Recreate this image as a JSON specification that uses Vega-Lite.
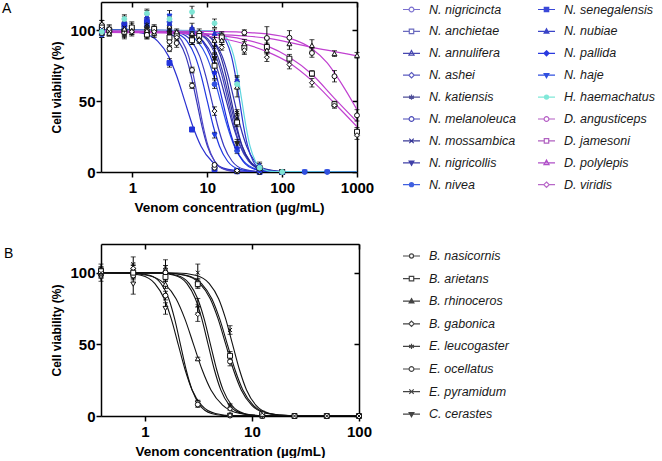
{
"$schema": "https://vega.github.io/schema/vega-lite/v6.json",
"padding": {"left": 2, "top": 0, "right": 0, "bottom": 0},
"spacing": 29,
"config": {
 "font": "Liberation Sans",
 "view": {"stroke": null},
 "axis": {"domainColor": "black", "domainWidth": 1.5, "tickColor": "black", "tickWidth": 1.5, "tickSize": 5, "grid": false, "labelFlush": false,
  "labelFont": "Liberation Sans", "labelFontWeight": "bold", "labelFontSize": 15, "labelColor": "black",
  "titleFont": "Liberation Sans", "titleFontWeight": "bold", "titleColor": "black"},
 "axisX": {"labelPadding": 3, "titlePadding": 5, "titleFontSize": 13.5},
 "axisY": {"labelPadding": 1, "titlePadding": 6, "titleFontSize": 12},
 "legend": {"labelFont": "Liberation Sans", "labelFontStyle": "italic", "labelFontSize": 12.5, "labelColor": "#1a1a1a", "symbolStrokeWidth": 1.2, "padding": 0}
},
"datasets": {
 "aC": [
  {"s":"N. senegalensis","x":0.38,"y":100},{"s":"N. senegalensis","x":0.68,"y":99.75},{"s":"N. senegalensis","x":1.32,"y":98.2},{"s":"N. senegalensis","x":2.17,"y":92.4},{"s":"N. senegalensis","x":3.03,"y":81.8},{"s":"N. senegalensis","x":3.89,"y":67.9},{"s":"N. senegalensis","x":5,"y":50},{"s":"N. senegalensis","x":6.42,"y":32.1},{"s":"N. senegalensis","x":8.24,"y":18.2},{"s":"N. senegalensis","x":11.5,"y":7.6},{"s":"N. senegalensis","x":19,"y":1.8},{"s":"N. senegalensis","x":36.9,"y":0.25},{"s":"N. senegalensis","x":1000,"y":0},
  {"s":"N. melanoleuca","x":0.38,"y":100},{"s":"N. melanoleuca","x":1.9,"y":99.75},{"s":"N. melanoleuca","x":2.96,"y":98.2},{"s":"N. melanoleuca","x":4.13,"y":92.4},{"s":"N. melanoleuca","x":5.16,"y":81.8},{"s":"N. melanoleuca","x":6.09,"y":67.9},{"s":"N. melanoleuca","x":7.2,"y":50},{"s":"N. melanoleuca","x":8.51,"y":32.1},{"s":"N. melanoleuca","x":10.05,"y":18.2},{"s":"N. melanoleuca","x":12.55,"y":7.6},{"s":"N. melanoleuca","x":17.51,"y":1.8},{"s":"N. melanoleuca","x":27.3,"y":0.25},{"s":"N. melanoleuca","x":1000,"y":0},
  {"s":"N. nigricincta","x":0.38,"y":100},{"s":"N. nigricincta","x":2.29,"y":99.75},{"s":"N. nigricincta","x":3.41,"y":98.2},{"s":"N. nigricincta","x":4.61,"y":92.4},{"s":"N. nigricincta","x":5.63,"y":81.8},{"s":"N. nigricincta","x":6.54,"y":67.9},{"s":"N. nigricincta","x":7.6,"y":50},{"s":"N. nigricincta","x":8.83,"y":32.1},{"s":"N. nigricincta","x":10.26,"y":18.2},{"s":"N. nigricincta","x":12.53,"y":7.6},{"s":"N. nigricincta","x":16.91,"y":1.8},{"s":"N. nigricincta","x":25.2,"y":0.25},{"s":"N. nigricincta","x":1000,"y":0},
  {"s":"N. haje","x":0.38,"y":100},{"s":"N. haje","x":2.23,"y":99.75},{"s":"N. haje","x":3.68,"y":98.2},{"s":"N. haje","x":5.35,"y":92.4},{"s":"N. haje","x":6.87,"y":81.8},{"s":"N. haje","x":8.29,"y":67.9},{"s":"N. haje","x":10,"y":50},{"s":"N. haje","x":12.06,"y":32.1},{"s":"N. haje","x":14.55,"y":18.2},{"s":"N. haje","x":18.68,"y":7.6},{"s":"N. haje","x":27.18,"y":1.8},{"s":"N. haje","x":44.8,"y":0.25},{"s":"N. haje","x":1000,"y":0},
  {"s":"N. ashei","x":0.38,"y":100},{"s":"N. ashei","x":2.57,"y":99.75},{"s":"N. ashei","x":4.23,"y":98.2},{"s":"N. ashei","x":6.16,"y":92.4},{"s":"N. ashei","x":7.9,"y":81.8},{"s":"N. ashei","x":9.53,"y":67.9},{"s":"N. ashei","x":11.5,"y":50},{"s":"N. ashei","x":13.87,"y":32.1},{"s":"N. ashei","x":16.73,"y":18.2},{"s":"N. ashei","x":21.48,"y":7.6},{"s":"N. ashei","x":31.26,"y":1.8},{"s":"N. ashei","x":51.5,"y":0.25},{"s":"N. ashei","x":1000,"y":0},
  {"s":"N. nivea","x":0.38,"y":100},{"s":"N. nivea","x":2.7,"y":99.75},{"s":"N. nivea","x":4.78,"y":98.2},{"s":"N. nivea","x":7.34,"y":92.4},{"s":"N. nivea","x":9.77,"y":81.8},{"s":"N. nivea","x":12.11,"y":67.9},{"s":"N. nivea","x":15,"y":50},{"s":"N. nivea","x":18.59,"y":32.1},{"s":"N. nivea","x":23,"y":18.2},{"s":"N. nivea","x":30.6,"y":7.6},{"s":"N. nivea","x":47,"y":1.8},{"s":"N. nivea","x":83.3,"y":0.25},{"s":"N. nivea","x":1000,"y":0},
  {"s":"N. pallida","x":0.38,"y":100},{"s":"N. pallida","x":3.57,"y":99.75},{"s":"N. pallida","x":5.89,"y":98.2},{"s":"N. pallida","x":8.56,"y":92.4},{"s":"N. pallida","x":11,"y":81.8},{"s":"N. pallida","x":13.26,"y":67.9},{"s":"N. pallida","x":16,"y":50},{"s":"N. pallida","x":19.3,"y":32.1},{"s":"N. pallida","x":23.3,"y":18.2},{"s":"N. pallida","x":29.9,"y":7.6},{"s":"N. pallida","x":43.5,"y":1.8},{"s":"N. pallida","x":71.7,"y":0.25},{"s":"N. pallida","x":1000,"y":0},
  {"s":"N. nigricollis","x":0.38,"y":100},{"s":"N. nigricollis","x":3.24,"y":99.75},{"s":"N. nigricollis","x":5.74,"y":98.2},{"s":"N. nigricollis","x":8.81,"y":92.4},{"s":"N. nigricollis","x":11.73,"y":81.8},{"s":"N. nigricollis","x":14.53,"y":67.9},{"s":"N. nigricollis","x":18,"y":50},{"s":"N. nigricollis","x":22.3,"y":32.1},{"s":"N. nigricollis","x":27.6,"y":18.2},{"s":"N. nigricollis","x":36.8,"y":7.6},{"s":"N. nigricollis","x":56.4,"y":1.8},{"s":"N. nigricollis","x":100,"y":0.25},{"s":"N. nigricollis","x":1000,"y":0},
  {"s":"N. anchietae","x":0.38,"y":100},{"s":"N. anchietae","x":4.24,"y":99.75},{"s":"N. anchietae","x":6.99,"y":98.2},{"s":"N. anchietae","x":10.17,"y":92.4},{"s":"N. anchietae","x":13.06,"y":81.8},{"s":"N. anchietae","x":15.75,"y":67.9},{"s":"N. anchietae","x":19,"y":50},{"s":"N. anchietae","x":22.9,"y":32.1},{"s":"N. anchietae","x":27.6,"y":18.2},{"s":"N. anchietae","x":35.5,"y":7.6},{"s":"N. anchietae","x":51.6,"y":1.8},{"s":"N. anchietae","x":85.2,"y":0.25},{"s":"N. anchietae","x":1000,"y":0},
  {"s":"N. katiensis","x":0.38,"y":100},{"s":"N. katiensis","x":4.46,"y":99.75},{"s":"N. katiensis","x":7.36,"y":98.2},{"s":"N. katiensis","x":10.71,"y":92.4},{"s":"N. katiensis","x":13.75,"y":81.8},{"s":"N. katiensis","x":16.58,"y":67.9},{"s":"N. katiensis","x":20,"y":50},{"s":"N. katiensis","x":24.1,"y":32.1},{"s":"N. katiensis","x":29.1,"y":18.2},{"s":"N. katiensis","x":37.4,"y":7.6},{"s":"N. katiensis","x":54.4,"y":1.8},{"s":"N. katiensis","x":89.6,"y":0.25},{"s":"N. katiensis","x":1000,"y":0},
  {"s":"N. mossambica","x":0.38,"y":100},{"s":"N. mossambica","x":5.54,"y":99.75},{"s":"N. mossambica","x":8.63,"y":98.2},{"s":"N. mossambica","x":12.05,"y":92.4},{"s":"N. mossambica","x":15.05,"y":81.8},{"s":"N. mossambica","x":17.78,"y":67.9},{"s":"N. mossambica","x":21,"y":50},{"s":"N. mossambica","x":24.8,"y":32.1},{"s":"N. mossambica","x":29.3,"y":18.2},{"s":"N. mossambica","x":36.6,"y":7.6},{"s":"N. mossambica","x":51.1,"y":1.8},{"s":"N. mossambica","x":79.7,"y":0.25},{"s":"N. mossambica","x":1000,"y":0},
  {"s":"N. annulifera","x":0.38,"y":100},{"s":"N. annulifera","x":5.13,"y":99.75},{"s":"N. annulifera","x":8.46,"y":98.2},{"s":"N. annulifera","x":12.31,"y":92.4},{"s":"N. annulifera","x":15.81,"y":81.8},{"s":"N. annulifera","x":19.07,"y":67.9},{"s":"N. annulifera","x":23,"y":50},{"s":"N. annulifera","x":27.7,"y":32.1},{"s":"N. annulifera","x":33.5,"y":18.2},{"s":"N. annulifera","x":43,"y":7.6},{"s":"N. annulifera","x":62.5,"y":1.8},{"s":"N. annulifera","x":103,"y":0.25},{"s":"N. annulifera","x":1000,"y":0},
  {"s":"N. nubiae","x":0.38,"y":100},{"s":"N. nubiae","x":9.93,"y":99.75},{"s":"N. nubiae","x":13.86,"y":98.2},{"s":"N. nubiae","x":17.8,"y":92.4},{"s":"N. nubiae","x":21,"y":81.8},{"s":"N. nubiae","x":23.8,"y":67.9},{"s":"N. nubiae","x":27,"y":50},{"s":"N. nubiae","x":30.6,"y":32.1},{"s":"N. nubiae","x":34.7,"y":18.2},{"s":"N. nubiae","x":41,"y":7.6},{"s":"N. nubiae","x":52.6,"y":1.8},{"s":"N. nubiae","x":73.4,"y":0.25},{"s":"N. nubiae","x":1000,"y":0},
  {"s":"H. haemachatus","x":0.38,"y":100},{"s":"H. haemachatus","x":10.67,"y":99.75},{"s":"H. haemachatus","x":14.89,"y":98.2},{"s":"H. haemachatus","x":19.12,"y":92.4},{"s":"H. haemachatus","x":22.6,"y":81.8},{"s":"H. haemachatus","x":25.6,"y":67.9},{"s":"H. haemachatus","x":29,"y":50},{"s":"H. haemachatus","x":32.9,"y":32.1},{"s":"H. haemachatus","x":37.2,"y":18.2},{"s":"H. haemachatus","x":44,"y":7.6},{"s":"H. haemachatus","x":56.5,"y":1.8},{"s":"H. haemachatus","x":78.8,"y":0.25},{"s":"H. haemachatus","x":1000,"y":0},
  {"s":"D. angusticeps","x":0.38,"y":99.6},{"s":"D. angusticeps","x":10,"y":99.3},{"s":"D. angusticeps","x":31.25,"y":98.6},{"s":"D. angusticeps","x":62.5,"y":97.5},{"s":"D. angusticeps","x":125,"y":94.5},{"s":"D. angusticeps","x":250,"y":87},{"s":"D. angusticeps","x":400,"y":77},{"s":"D. angusticeps","x":500,"y":70},{"s":"D. angusticeps","x":700,"y":58},{"s":"D. angusticeps","x":1000,"y":44},
  {"s":"D. jamesoni","x":0.38,"y":99.5},{"s":"D. jamesoni","x":3,"y":99},{"s":"D. jamesoni","x":10,"y":97.5},{"s":"D. jamesoni","x":31.25,"y":93.5},{"s":"D. jamesoni","x":62.5,"y":89},{"s":"D. jamesoni","x":125,"y":81},{"s":"D. jamesoni","x":250,"y":69},{"s":"D. jamesoni","x":500,"y":52},{"s":"D. jamesoni","x":1000,"y":35.5},
  {"s":"D. viridis","x":0.38,"y":99},{"s":"D. viridis","x":3,"y":98.3},{"s":"D. viridis","x":10,"y":96},{"s":"D. viridis","x":31.25,"y":90.5},{"s":"D. viridis","x":62.5,"y":85},{"s":"D. viridis","x":125,"y":77},{"s":"D. viridis","x":250,"y":64.5},{"s":"D. viridis","x":500,"y":48.5},{"s":"D. viridis","x":1000,"y":32},
  {"s":"D. polylepis","x":0.38,"y":98.5},{"s":"D. polylepis","x":3,"y":98.2},{"s":"D. polylepis","x":10,"y":97.3},{"s":"D. polylepis","x":31.25,"y":96},{"s":"D. polylepis","x":62.5,"y":94.5},{"s":"D. polylepis","x":125,"y":91.5},{"s":"D. polylepis","x":250,"y":88},{"s":"D. polylepis","x":500,"y":85},{"s":"D. polylepis","x":1000,"y":82}
 ],
 "aP": [
  {"s":"N. senegalensis","x":0.39,"y":101,"e":3},{"s":"N. senegalensis","x":0.78,"y":104,"e":4},{"s":"N. senegalensis","x":1.56,"y":106,"e":5},{"s":"N. senegalensis","x":3.125,"y":77,"e":3},{"s":"N. senegalensis","x":6.25,"y":30,"e":1.5},{"s":"N. senegalensis","x":12.5,"y":2,"e":1},{"s":"N. senegalensis","x":25,"y":0.5,"e":0.5},{"s":"N. senegalensis","x":50,"y":0,"e":0.5},{"s":"N. senegalensis","x":100,"y":0,"e":0.5},
  {"s":"N. melanoleuca","x":0.39,"y":98,"e":3},{"s":"N. melanoleuca","x":0.78,"y":100,"e":4},{"s":"N. melanoleuca","x":1.56,"y":99,"e":3},{"s":"N. melanoleuca","x":3.125,"y":92,"e":3},{"s":"N. melanoleuca","x":6.25,"y":61,"e":2},{"s":"N. melanoleuca","x":12.5,"y":3,"e":1},{"s":"N. melanoleuca","x":25,"y":0.5,"e":0.5},{"s":"N. melanoleuca","x":50,"y":0,"e":0.5},{"s":"N. melanoleuca","x":100,"y":0,"e":0.5},
  {"s":"N. nigricincta","x":0.39,"y":103,"e":4},{"s":"N. nigricincta","x":0.78,"y":101,"e":3},{"s":"N. nigricincta","x":1.56,"y":100,"e":3},{"s":"N. nigricincta","x":3.125,"y":87,"e":2},{"s":"N. nigricincta","x":6.25,"y":72,"e":2},{"s":"N. nigricincta","x":12.5,"y":5,"e":1},{"s":"N. nigricincta","x":25,"y":0.5,"e":0.5},{"s":"N. nigricincta","x":50,"y":0,"e":0.5},{"s":"N. nigricincta","x":100,"y":0,"e":0.5},
  {"s":"N. haje","x":0.39,"y":100,"e":2},{"s":"N. haje","x":0.78,"y":98,"e":3},{"s":"N. haje","x":1.56,"y":102,"e":4},{"s":"N. haje","x":3.125,"y":110,"e":4},{"s":"N. haje","x":6.25,"y":96,"e":3},{"s":"N. haje","x":12.5,"y":26,"e":2},{"s":"N. haje","x":25,"y":1,"e":1},{"s":"N. haje","x":50,"y":0,"e":0.5},{"s":"N. haje","x":100,"y":0,"e":0.5},{"s":"N. haje","x":200,"y":0,"e":0.5},{"s":"N. haje","x":400,"y":0,"e":0.5},
  {"s":"N. ashei","x":0.39,"y":104,"e":3},{"s":"N. ashei","x":0.78,"y":99,"e":3},{"s":"N. ashei","x":1.56,"y":97,"e":3},{"s":"N. ashei","x":3.125,"y":99,"e":2},{"s":"N. ashei","x":6.25,"y":95,"e":3},{"s":"N. ashei","x":12.5,"y":43,"e":3},{"s":"N. ashei","x":25,"y":1,"e":1},{"s":"N. ashei","x":50,"y":0,"e":0.5},{"s":"N. ashei","x":100,"y":0,"e":0.5},
  {"s":"N. nivea","x":0.39,"y":97,"e":2},{"s":"N. nivea","x":0.78,"y":101,"e":3},{"s":"N. nivea","x":1.56,"y":103,"e":4},{"s":"N. nivea","x":3.125,"y":106,"e":4},{"s":"N. nivea","x":6.25,"y":99,"e":3},{"s":"N. nivea","x":12.5,"y":62,"e":3},{"s":"N. nivea","x":25,"y":15,"e":2},{"s":"N. nivea","x":50,"y":1,"e":1},{"s":"N. nivea","x":100,"y":0,"e":0.5},{"s":"N. nivea","x":200,"y":0,"e":0.5},{"s":"N. nivea","x":400,"y":0,"e":0.5},
  {"s":"N. pallida","x":0.39,"y":99,"e":2},{"s":"N. pallida","x":0.78,"y":103,"e":3},{"s":"N. pallida","x":1.56,"y":98,"e":3},{"s":"N. pallida","x":3.125,"y":100,"e":3},{"s":"N. pallida","x":6.25,"y":93,"e":3},{"s":"N. pallida","x":12.5,"y":70,"e":4},{"s":"N. pallida","x":25,"y":17,"e":2},{"s":"N. pallida","x":50,"y":1,"e":1},{"s":"N. pallida","x":100,"y":0,"e":0.5},
  {"s":"N. nigricollis","x":0.39,"y":100,"e":3},{"s":"N. nigricollis","x":0.78,"y":97,"e":3},{"s":"N. nigricollis","x":1.56,"y":101,"e":4},{"s":"N. nigricollis","x":3.125,"y":98,"e":3},{"s":"N. nigricollis","x":6.25,"y":95,"e":3},{"s":"N. nigricollis","x":12.5,"y":80,"e":4},{"s":"N. nigricollis","x":25,"y":20,"e":3},{"s":"N. nigricollis","x":50,"y":2,"e":1},{"s":"N. nigricollis","x":100,"y":0,"e":0.5},
  {"s":"N. anchietae","x":0.39,"y":102,"e":3},{"s":"N. anchietae","x":0.78,"y":99,"e":3},{"s":"N. anchietae","x":1.56,"y":97,"e":3},{"s":"N. anchietae","x":3.125,"y":95,"e":3},{"s":"N. anchietae","x":6.25,"y":93,"e":3},{"s":"N. anchietae","x":12.5,"y":75,"e":4},{"s":"N. anchietae","x":25,"y":35,"e":3},{"s":"N. anchietae","x":50,"y":3,"e":1},{"s":"N. anchietae","x":100,"y":0,"e":0.5},
  {"s":"N. katiensis","x":0.39,"y":99,"e":2},{"s":"N. katiensis","x":0.78,"y":100,"e":3},{"s":"N. katiensis","x":1.56,"y":104,"e":4},{"s":"N. katiensis","x":3.125,"y":100,"e":3},{"s":"N. katiensis","x":6.25,"y":97,"e":3},{"s":"N. katiensis","x":12.5,"y":80,"e":3},{"s":"N. katiensis","x":25,"y":42,"e":2},{"s":"N. katiensis","x":50,"y":3,"e":1},{"s":"N. katiensis","x":100,"y":0,"e":0.5},
  {"s":"N. mossambica","x":0.39,"y":101,"e":3},{"s":"N. mossambica","x":0.78,"y":102,"e":3},{"s":"N. mossambica","x":1.56,"y":99,"e":3},{"s":"N. mossambica","x":3.125,"y":101,"e":3},{"s":"N. mossambica","x":6.25,"y":98,"e":3},{"s":"N. mossambica","x":12.5,"y":88,"e":4},{"s":"N. mossambica","x":25,"y":38,"e":3},{"s":"N. mossambica","x":50,"y":2,"e":1},{"s":"N. mossambica","x":100,"y":0,"e":0.5},
  {"s":"N. annulifera","x":0.39,"y":98,"e":3},{"s":"N. annulifera","x":0.78,"y":101,"e":3},{"s":"N. annulifera","x":1.56,"y":100,"e":3},{"s":"N. annulifera","x":3.125,"y":103,"e":3},{"s":"N. annulifera","x":6.25,"y":98,"e":3},{"s":"N. annulifera","x":12.5,"y":93,"e":4},{"s":"N. annulifera","x":25,"y":60,"e":7},{"s":"N. annulifera","x":50,"y":4,"e":2},{"s":"N. annulifera","x":100,"y":0,"e":0.5},
  {"s":"N. nubiae","x":0.39,"y":100,"e":2},{"s":"N. nubiae","x":0.78,"y":106,"e":4},{"s":"N. nubiae","x":1.56,"y":110,"e":4},{"s":"N. nubiae","x":3.125,"y":105,"e":4},{"s":"N. nubiae","x":6.25,"y":102,"e":3},{"s":"N. nubiae","x":12.5,"y":98,"e":3},{"s":"N. nubiae","x":25,"y":65,"e":3},{"s":"N. nubiae","x":50,"y":5,"e":2},{"s":"N. nubiae","x":100,"y":0,"e":0.5},
  {"s":"H. haemachatus","x":0.39,"y":99,"e":2},{"s":"H. haemachatus","x":0.78,"y":108,"e":3},{"s":"H. haemachatus","x":1.56,"y":112,"e":3},{"s":"H. haemachatus","x":3.125,"y":108,"e":3},{"s":"H. haemachatus","x":6.25,"y":113,"e":4},{"s":"H. haemachatus","x":12.5,"y":105,"e":3},{"s":"H. haemachatus","x":25,"y":62,"e":3},{"s":"H. haemachatus","x":50,"y":3,"e":1},{"s":"H. haemachatus","x":100,"y":0,"e":0.5},
  {"s":"D. angusticeps","x":0.49,"y":99,"e":3},{"s":"D. angusticeps","x":0.98,"y":101,"e":4},{"s":"D. angusticeps","x":1.95,"y":100,"e":3},{"s":"D. angusticeps","x":3.9,"y":91,"e":3},{"s":"D. angusticeps","x":7.8,"y":98,"e":3},{"s":"D. angusticeps","x":15.6,"y":96,"e":3},{"s":"D. angusticeps","x":31.25,"y":98.4,"e":2},{"s":"D. angusticeps","x":62.5,"y":94.6,"e":8},{"s":"D. angusticeps","x":125,"y":94.8,"e":5},{"s":"D. angusticeps","x":250,"y":84,"e":3},{"s":"D. angusticeps","x":500,"y":67.6,"e":4},{"s":"D. angusticeps","x":1000,"y":40,"e":4},
  {"s":"D. jamesoni","x":0.49,"y":100,"e":3},{"s":"D. jamesoni","x":0.98,"y":102,"e":4},{"s":"D. jamesoni","x":1.95,"y":101,"e":3},{"s":"D. jamesoni","x":3.9,"y":97,"e":3},{"s":"D. jamesoni","x":7.8,"y":96,"e":3},{"s":"D. jamesoni","x":15.6,"y":95,"e":3},{"s":"D. jamesoni","x":31.25,"y":88,"e":4},{"s":"D. jamesoni","x":62.5,"y":88.3,"e":5},{"s":"D. jamesoni","x":125,"y":80,"e":3},{"s":"D. jamesoni","x":250,"y":69.5,"e":2},{"s":"D. jamesoni","x":500,"y":47.9,"e":2},{"s":"D. jamesoni","x":1000,"y":28.4,"e":3},
  {"s":"D. polylepis","x":0.49,"y":98,"e":2},{"s":"D. polylepis","x":0.98,"y":100,"e":3},{"s":"D. polylepis","x":1.95,"y":98,"e":3},{"s":"D. polylepis","x":3.9,"y":99,"e":2},{"s":"D. polylepis","x":7.8,"y":94,"e":3},{"s":"D. polylepis","x":15.6,"y":93,"e":3},{"s":"D. polylepis","x":31.25,"y":90.6,"e":3},{"s":"D. polylepis","x":62.5,"y":86,"e":5},{"s":"D. polylepis","x":125,"y":90.6,"e":4},{"s":"D. polylepis","x":250,"y":89.4,"e":4},{"s":"D. polylepis","x":500,"y":83.6,"e":2},{"s":"D. polylepis","x":1000,"y":82.4,"e":2},
  {"s":"D. viridis","x":0.49,"y":101,"e":3},{"s":"D. viridis","x":0.98,"y":99,"e":3},{"s":"D. viridis","x":1.95,"y":99,"e":3},{"s":"D. viridis","x":3.9,"y":95,"e":2},{"s":"D. viridis","x":7.8,"y":93,"e":2},{"s":"D. viridis","x":15.6,"y":88,"e":2},{"s":"D. viridis","x":31.25,"y":86,"e":3},{"s":"D. viridis","x":62.5,"y":81,"e":3},{"s":"D. viridis","x":125,"y":75.8,"e":3},{"s":"D. viridis","x":250,"y":63,"e":3},{"s":"D. viridis","x":500,"y":47,"e":2},{"s":"D. viridis","x":1000,"y":26,"e":3}
 ],
 "bC": [
  {"s":"C. cerastes","x":0.39,"y":100},{"s":"C. cerastes","x":0.617,"y":99.75},{"s":"C. cerastes","x":0.921,"y":98.2},{"s":"C. cerastes","x":1.243,"y":92.4},{"s":"C. cerastes","x":1.519,"y":81.8},{"s":"C. cerastes","x":1.764,"y":67.9},{"s":"C. cerastes","x":2.05,"y":50},{"s":"C. cerastes","x":2.382,"y":32.1},{"s":"C. cerastes","x":2.767,"y":18.2},{"s":"C. cerastes","x":3.38,"y":7.6},{"s":"C. cerastes","x":4.562,"y":1.8},{"s":"C. cerastes","x":6.806,"y":0.25},{"s":"C. cerastes","x":100,"y":0},
  {"s":"B. nasicornis","x":0.39,"y":100},{"s":"B. nasicornis","x":0.791,"y":99.75},{"s":"B. nasicornis","x":1.104,"y":98.2},{"s":"B. nasicornis","x":1.417,"y":92.4},{"s":"B. nasicornis","x":1.674,"y":81.8},{"s":"B. nasicornis","x":1.897,"y":67.9},{"s":"B. nasicornis","x":2.15,"y":50},{"s":"B. nasicornis","x":2.436,"y":32.1},{"s":"B. nasicornis","x":2.761,"y":18.2},{"s":"B. nasicornis","x":3.262,"y":7.6},{"s":"B. nasicornis","x":4.188,"y":1.8},{"s":"B. nasicornis","x":5.844,"y":0.25},{"s":"B. nasicornis","x":100,"y":0},
  {"s":"B. rhinoceros","x":0.39,"y":100},{"s":"B. rhinoceros","x":0.636,"y":99.75},{"s":"B. rhinoceros","x":1.049,"y":98.2},{"s":"B. rhinoceros","x":1.526,"y":92.4},{"s":"B. rhinoceros","x":1.959,"y":81.8},{"s":"B. rhinoceros","x":2.363,"y":67.9},{"s":"B. rhinoceros","x":2.85,"y":50},{"s":"B. rhinoceros","x":3.438,"y":32.1},{"s":"B. rhinoceros","x":4.147,"y":18.2},{"s":"B. rhinoceros","x":5.324,"y":7.6},{"s":"B. rhinoceros","x":7.746,"y":1.8},{"s":"B. rhinoceros","x":12.77,"y":0.25},{"s":"B. rhinoceros","x":100,"y":0},
  {"s":"E. leucogaster","x":0.39,"y":100},{"s":"E. leucogaster","x":1.31,"y":99.75},{"s":"E. leucogaster","x":1.884,"y":98.2},{"s":"E. leucogaster","x":2.476,"y":92.4},{"s":"E. leucogaster","x":2.969,"y":81.8},{"s":"E. leucogaster","x":3.403,"y":67.9},{"s":"E. leucogaster","x":3.9,"y":50},{"s":"E. leucogaster","x":4.47,"y":32.1},{"s":"E. leucogaster","x":5.123,"y":18.2},{"s":"E. leucogaster","x":6.144,"y":7.6},{"s":"E. leucogaster","x":8.072,"y":1.8},{"s":"E. leucogaster","x":11.61,"y":0.25},{"s":"E. leucogaster","x":100,"y":0},
  {"s":"B. gabonica","x":0.39,"y":100},{"s":"B. gabonica","x":1.378,"y":99.75},{"s":"B. gabonica","x":1.98,"y":98.2},{"s":"B. gabonica","x":2.603,"y":92.4},{"s":"B. gabonica","x":3.121,"y":81.8},{"s":"B. gabonica","x":3.577,"y":67.9},{"s":"B. gabonica","x":4.1,"y":50},{"s":"B. gabonica","x":4.699,"y":32.1},{"s":"B. gabonica","x":5.385,"y":18.2},{"s":"B. gabonica","x":6.459,"y":7.6},{"s":"B. gabonica","x":8.486,"y":1.8},{"s":"B. gabonica","x":12.2,"y":0.25},{"s":"B. gabonica","x":100,"y":0},
  {"s":"E. ocellatus","x":0.39,"y":100},{"s":"E. ocellatus","x":1.503,"y":99.75},{"s":"E. ocellatus","x":2.343,"y":98.2},{"s":"E. ocellatus","x":3.271,"y":92.4},{"s":"E. ocellatus","x":4.084,"y":81.8},{"s":"E. ocellatus","x":4.825,"y":67.9},{"s":"E. ocellatus","x":5.7,"y":50},{"s":"E. ocellatus","x":6.734,"y":32.1},{"s":"E. ocellatus","x":7.955,"y":18.2},{"s":"E. ocellatus","x":9.935,"y":7.6},{"s":"E. ocellatus","x":13.86,"y":1.8},{"s":"E. ocellatus","x":21.63,"y":0.25},{"s":"E. ocellatus","x":100,"y":0},
  {"s":"B. arietans","x":0.39,"y":100},{"s":"B. arietans","x":1.555,"y":99.75},{"s":"B. arietans","x":2.425,"y":98.2},{"s":"B. arietans","x":3.385,"y":92.4},{"s":"B. arietans","x":4.227,"y":81.8},{"s":"B. arietans","x":4.994,"y":67.9},{"s":"B. arietans","x":5.9,"y":50},{"s":"B. arietans","x":6.97,"y":32.1},{"s":"B. arietans","x":8.234,"y":18.2},{"s":"B. arietans","x":10.28,"y":7.6},{"s":"B. arietans","x":14.35,"y":1.8},{"s":"B. arietans","x":22.38,"y":0.25},{"s":"B. arietans","x":100,"y":0},
  {"s":"E. pyramidum","x":0.39,"y":100},{"s":"E. pyramidum","x":1.988,"y":99.75},{"s":"E. pyramidum","x":2.965,"y":98.2},{"s":"E. pyramidum","x":4.003,"y":92.4},{"s":"E. pyramidum","x":4.889,"y":81.8},{"s":"E. pyramidum","x":5.681,"y":67.9},{"s":"E. pyramidum","x":6.6,"y":50},{"s":"E. pyramidum","x":7.668,"y":32.1},{"s":"E. pyramidum","x":8.909,"y":18.2},{"s":"E. pyramidum","x":10.88,"y":7.6},{"s":"E. pyramidum","x":14.69,"y":1.8},{"s":"E. pyramidum","x":21.91,"y":0.25},{"s":"E. pyramidum","x":100,"y":0}
 ],
 "bP": [
  {"s":"C. cerastes","x":0.39,"y":97,"e":3},{"s":"C. cerastes","x":0.78,"y":92,"e":7},{"s":"C. cerastes","x":1.56,"y":75,"e":4},{"s":"C. cerastes","x":3.125,"y":9,"e":2},{"s":"C. cerastes","x":6.25,"y":0.5,"e":0.5},{"s":"C. cerastes","x":12.5,"y":0,"e":0.5},{"s":"C. cerastes","x":25,"y":0,"e":0.5},{"s":"C. cerastes","x":50,"y":0,"e":0.5},{"s":"C. cerastes","x":100,"y":0,"e":0.5},
  {"s":"B. nasicornis","x":0.39,"y":100,"e":3},{"s":"B. nasicornis","x":0.78,"y":99,"e":3},{"s":"B. nasicornis","x":1.56,"y":84,"e":3},{"s":"B. nasicornis","x":3.125,"y":8,"e":2},{"s":"B. nasicornis","x":6.25,"y":0.3,"e":0.5},{"s":"B. nasicornis","x":12.5,"y":0,"e":0.5},{"s":"B. nasicornis","x":25,"y":0,"e":0.5},{"s":"B. nasicornis","x":50,"y":0,"e":0.5},{"s":"B. nasicornis","x":100,"y":0,"e":0.5},
  {"s":"B. rhinoceros","x":0.39,"y":101,"e":3},{"s":"B. rhinoceros","x":0.78,"y":100,"e":3},{"s":"B. rhinoceros","x":1.56,"y":92,"e":3},{"s":"B. rhinoceros","x":3.125,"y":40,"e":1},{"s":"B. rhinoceros","x":6.25,"y":1,"e":0.5},{"s":"B. rhinoceros","x":12.5,"y":0,"e":0.5},{"s":"B. rhinoceros","x":25,"y":0,"e":0.5},{"s":"B. rhinoceros","x":50,"y":0,"e":0.5},{"s":"B. rhinoceros","x":100,"y":0,"e":0.5},
  {"s":"E. leucogaster","x":0.39,"y":102,"e":4},{"s":"E. leucogaster","x":0.78,"y":101,"e":4},{"s":"E. leucogaster","x":1.56,"y":98,"e":4},{"s":"E. leucogaster","x":3.125,"y":77,"e":5},{"s":"E. leucogaster","x":6.25,"y":7,"e":1.5},{"s":"E. leucogaster","x":12.5,"y":1,"e":0.5},{"s":"E. leucogaster","x":25,"y":0,"e":0.5},{"s":"E. leucogaster","x":50,"y":0,"e":0.5},{"s":"E. leucogaster","x":100,"y":0,"e":0.5},
  {"s":"B. gabonica","x":0.39,"y":99,"e":3},{"s":"B. gabonica","x":0.78,"y":103,"e":3},{"s":"B. gabonica","x":1.56,"y":101,"e":4},{"s":"B. gabonica","x":3.125,"y":71,"e":5},{"s":"B. gabonica","x":6.25,"y":5,"e":1},{"s":"B. gabonica","x":12.5,"y":0.5,"e":0.5},{"s":"B. gabonica","x":25,"y":0,"e":0.5},{"s":"B. gabonica","x":50,"y":0,"e":0.5},{"s":"B. gabonica","x":100,"y":0,"e":0.5},
  {"s":"E. ocellatus","x":0.39,"y":100,"e":3},{"s":"E. ocellatus","x":0.78,"y":98,"e":3},{"s":"E. ocellatus","x":1.56,"y":100,"e":3},{"s":"E. ocellatus","x":3.125,"y":93,"e":3},{"s":"E. ocellatus","x":6.25,"y":38,"e":3},{"s":"E. ocellatus","x":12.5,"y":1.5,"e":1},{"s":"E. ocellatus","x":25,"y":0,"e":0.5},{"s":"E. ocellatus","x":50,"y":0,"e":0.5},{"s":"E. ocellatus","x":100,"y":0,"e":0.5},
  {"s":"B. arietans","x":0.39,"y":101,"e":3},{"s":"B. arietans","x":0.78,"y":100,"e":3},{"s":"B. arietans","x":1.56,"y":97,"e":3},{"s":"B. arietans","x":3.125,"y":92,"e":3},{"s":"B. arietans","x":6.25,"y":42,"e":3},{"s":"B. arietans","x":12.5,"y":1.5,"e":1},{"s":"B. arietans","x":25,"y":0,"e":0.5},{"s":"B. arietans","x":50,"y":0,"e":0.5},{"s":"B. arietans","x":100,"y":0,"e":0.5},
  {"s":"E. pyramidum","x":0.39,"y":100,"e":3},{"s":"E. pyramidum","x":0.78,"y":106,"e":5},{"s":"E. pyramidum","x":1.56,"y":104,"e":5},{"s":"E. pyramidum","x":3.125,"y":100,"e":6},{"s":"E. pyramidum","x":6.25,"y":60,"e":3},{"s":"E. pyramidum","x":12.5,"y":2,"e":1},{"s":"E. pyramidum","x":25,"y":0,"e":0.5},{"s":"E. pyramidum","x":50,"y":0,"e":0.5},{"s":"E. pyramidum","x":100,"y":0,"e":0.5}
 ]
},
"vconcat": [
 {
  "width": 256, "height": 170,
  "title": {"text": "A", "anchor": "start", "frame": "group", "baseline": "top", "offset": -16, "dx": -99, "fontSize": 14, "fontWeight": "normal", "font": "Liberation Sans", "color": "black"},
  "resolve": {"scale": {"color": "independent", "shape": "independent", "fill": "independent", "stroke": "independent"}, "axis": {"x": "independent", "y": "independent"}},
  "layer": [
   {"data": {"name": "aC"}, "mark": {"type": "line", "strokeWidth": 1.2, "interpolate": "monotone", "clip": true},
    "encoding": {
     "x": {"field": "x", "type": "quantitative", "scale": {"type": "log", "domain": [0.38, 1000], "nice": false}, "axis": {"values": [1, 10, 100, 1000], "format": "d", "title": "Venom concentration (µg/mL)"}},
     "y": {"field": "y", "type": "quantitative", "scale": {"domain": [0, 120], "nice": false, "zero": false}, "axis": {"values": [0, 50, 100], "title": "Cell viability (%)"}},
     "color": {"field": "s", "type": "nominal", "legend": null,
      "scale": {"domain": ["N. nigricincta","N. anchietae","N. annulifera","N. ashei","N. katiensis","N. melanoleuca","N. mossambica","N. nigricollis","N. nivea","N. senegalensis","N. nubiae","N. pallida","N. haje","H. haemachatus","D. angusticeps","D. jamesoni","D. polylepis","D. viridis"],
       "range": ["#4f46c8","#4040b8","#3030b0","#3a3ac0","#3434a8","#3535b8","#2a2a9a","#3030a8","#2a50e8","#2a30d0","#2a36d0","#1a28e0","#2038e0","#5fd6e0","#c040d0","#c040d0","#c040d0","#c040d0"]}}
    }},
   {"data": {"name": "aP"}, "mark": {"type": "errorbar", "ticks": true, "size": 5, "thickness": 1, "color": "black"},
    "encoding": {
     "x": {"field": "x", "type": "quantitative", "axis": null},
     "y": {"field": "y", "type": "quantitative", "axis": null},
     "yError": {"field": "e"}
    }},
   {"data": {"name": "aP"}, "mark": {"type": "point", "filled": true, "size": 24, "strokeWidth": 1, "opacity": 1},
    "encoding": {
     "x": {"field": "x", "type": "quantitative", "axis": null},
     "y": {"field": "y", "type": "quantitative", "axis": null},
     "shape": {"field": "s", "type": "nominal", "legend": null,
      "scale": {"domain": ["N. nigricincta","N. anchietae","N. annulifera","N. ashei","N. katiensis","N. melanoleuca","N. mossambica","N. nigricollis","N. nivea","N. senegalensis","N. nubiae","N. pallida","N. haje","H. haemachatus","D. angusticeps","D. jamesoni","D. polylepis","D. viridis"],
       "range": ["circle","square","triangle-up","diamond","M0,-1V1M-0.87,-0.5L0.87,0.5M-0.87,0.5L0.87,-0.5","circle","M-0.8,-0.8L0.8,0.8M-0.8,0.8L0.8,-0.8","triangle-down","circle","square","triangle-up","diamond","triangle-down","circle","circle","square","triangle-up","diamond"]}},
     "fill": {"field": "s", "type": "nominal", "legend": null,
      "scale": {"domain": ["N. nigricincta","N. anchietae","N. annulifera","N. ashei","N. katiensis","N. melanoleuca","N. mossambica","N. nigricollis","N. nivea","N. senegalensis","N. nubiae","N. pallida","N. haje","H. haemachatus","D. angusticeps","D. jamesoni","D. polylepis","D. viridis"],
       "range": ["white","white","white","white","#111111","white","white","#222222","#3050e0","#2233dd","#2233cc","#1a2ae0","#1f3fe0","#7fe5d5","white","white","white","white"]}},
     "stroke": {"field": "s", "type": "nominal", "legend": null,
      "scale": {"domain": ["N. nigricincta","N. anchietae","N. annulifera","N. ashei","N. katiensis","N. melanoleuca","N. mossambica","N. nigricollis","N. nivea","N. senegalensis","N. nubiae","N. pallida","N. haje","H. haemachatus","D. angusticeps","D. jamesoni","D. polylepis","D. viridis"],
       "range": ["#111111","#111111","#111111","#111111","#111111","#111111","#111111","#222222","#3050e0","#2233dd","#2233cc","#1a2ae0","#1f3fe0","#7fe5d5","#111111","#111111","#111111","#111111"]}}
    }},
   {"data": {"name": "aP"}, "mark": {"type": "point", "filled": false, "opacity": 0},
    "encoding": {
     "x": {"field": "x", "type": "quantitative", "axis": {"orient": "top", "labels": false, "title": null, "tickSize": -5, "values": [1, 10, 100, 1000]}},
     "y": {"field": "y", "type": "quantitative", "axis": {"orient": "right", "labels": false, "title": null, "tickSize": -5, "values": [0, 50, 100]}},
     "color": {"field": "s", "type": "nominal",
      "legend": {"orient": "none", "legendX": 301, "legendY": -2, "columns": 2, "columnPadding": 19, "rowPadding": 5.9, "title": null, "symbolSize": 289, "labelOffset": 8},
      "scale": {"domain": ["N. nigricincta","N. anchietae","N. annulifera","N. ashei","N. katiensis","N. melanoleuca","N. mossambica","N. nigricollis","N. nivea","N. senegalensis","N. nubiae","N. pallida","N. haje","H. haemachatus","D. angusticeps","D. jamesoni","D. polylepis","D. viridis"],
       "range": ["#7a6fcf","#6a6abf","#4848b0","#5c5cc0","#50509a","#4a4ab8","#3a3a98","#4040a8","#4060e0","#3a48d8","#3a44c8","#2a3ae0","#3050e0","#80e8d8","#b45cc4","#b060c0","#b050c8","#b868c8"]}},
     "shape": {"field": "s", "type": "nominal",
      "legend": {"orient": "none", "legendX": 301, "legendY": -2, "columns": 2, "columnPadding": 19, "rowPadding": 5.9, "title": null, "symbolSize": 289, "labelOffset": 8},
      "scale": {"domain": ["N. nigricincta","N. anchietae","N. annulifera","N. ashei","N. katiensis","N. melanoleuca","N. mossambica","N. nigricollis","N. nivea","N. senegalensis","N. nubiae","N. pallida","N. haje","H. haemachatus","D. angusticeps","D. jamesoni","D. polylepis","D. viridis"],
       "range": [
        "M-1,0H-0.28M0.28,0H1M0.28,0A0.28,0.28 0 1 1 -0.28,0A0.28,0.28 0 1 1 0.28,0",
        "M-1,0H-0.26M0.26,0H1M-0.26,-0.26H0.26V0.26H-0.26Z",
        "M-1,0H1M0,-0.32L0.3,0.22H-0.3Z",
        "M-1,0H-0.32M0.32,0H1M0,-0.32L0.32,0L0,0.32L-0.32,0Z",
        "M-1,0H1M0,-0.32V0.32M-0.28,-0.16L0.28,0.16M-0.28,0.16L0.28,-0.16",
        "M-1,0H-0.28M0.28,0H1M0.28,0A0.28,0.28 0 1 1 -0.28,0A0.28,0.28 0 1 1 0.28,0",
        "M-1,0H1M-0.26,-0.26L0.26,0.26M-0.26,0.26L0.26,-0.26",
        "M-1,0H1M0,0.3L0.28,-0.2H-0.28ZM0,0.1L0.12,-0.12H-0.12Z",
        "M-1,0H1M0.24,0A0.24,0.24 0 1 1 -0.24,0A0.24,0.24 0 1 1 0.24,0M0.12,0A0.12,0.12 0 1 1 -0.12,0A0.12,0.12 0 1 1 0.12,0",
        "M-1,0H1M-0.26,-0.26H0.26V0.26H-0.26ZM-0.26,-0.13H0.26M-0.26,0.13H0.26",
        "M-1,0H1M0,-0.3L0.28,0.2H-0.28ZM0,-0.1L0.12,0.12H-0.12Z",
        "M-1,0H1M0,-0.3L0.3,0L0,0.3L-0.3,0ZM0,-0.15L0.15,0L0,0.15L-0.15,0Z",
        "M-1,0H1M0,0.3L0.28,-0.2H-0.28ZM0,0.1L0.12,-0.12H-0.12Z",
        "M-1,0H1M0.24,0A0.24,0.24 0 1 1 -0.24,0A0.24,0.24 0 1 1 0.24,0M0.12,0A0.12,0.12 0 1 1 -0.12,0A0.12,0.12 0 1 1 0.12,0",
        "M-1,0H-0.28M0.28,0H1M0.28,0A0.28,0.28 0 1 1 -0.28,0A0.28,0.28 0 1 1 0.28,0",
        "M-1,0H-0.26M0.26,0H1M-0.26,-0.26H0.26V0.26H-0.26Z",
        "M-1,0H1M0,-0.32L0.3,0.22H-0.3Z",
        "M-1,0H-0.32M0.32,0H1M0,-0.32L0.32,0L0,0.32L-0.32,0Z"]}}
    }}
  ]
 },
 {
  "width": 258, "height": 172,
  "title": {"text": "B", "anchor": "start", "frame": "group", "baseline": "top", "offset": -18, "dx": -97, "fontSize": 14, "fontWeight": "normal", "font": "Liberation Sans", "color": "black"},
  "resolve": {"scale": {"color": "independent", "shape": "independent"}, "axis": {"x": "independent", "y": "independent"}},
  "layer": [
   {"data": {"name": "bC"}, "mark": {"type": "line", "strokeWidth": 1.1, "interpolate": "monotone", "color": "#111111", "clip": true},
    "encoding": {
     "x": {"field": "x", "type": "quantitative", "scale": {"type": "log", "domain": [0.39, 100], "nice": false}, "axis": {"values": [1, 10, 100], "format": "d", "title": "Venom concentration (µg/mL)"}},
     "y": {"field": "y", "type": "quantitative", "scale": {"domain": [0, 120], "nice": false, "zero": false}, "axis": {"values": [0, 50, 100], "title": "Cell viability (%)"}},
     "detail": {"field": "s", "type": "nominal"}
    }},
   {"data": {"name": "bP"}, "mark": {"type": "errorbar", "ticks": true, "size": 5, "thickness": 1, "color": "black"},
    "encoding": {
     "x": {"field": "x", "type": "quantitative", "axis": null},
     "y": {"field": "y", "type": "quantitative", "axis": null},
     "yError": {"field": "e"}
    }},
   {"data": {"name": "bP"}, "mark": {"type": "point", "filled": true, "size": 24, "strokeWidth": 1, "opacity": 1, "fill": "white", "stroke": "#111111"},
    "encoding": {
     "x": {"field": "x", "type": "quantitative", "axis": null},
     "y": {"field": "y", "type": "quantitative", "axis": null},
     "shape": {"field": "s", "type": "nominal", "legend": null,
      "scale": {"domain": ["B. nasicornis","B. arietans","B. rhinoceros","B. gabonica","E. leucogaster","E. ocellatus","E. pyramidum","C. cerastes"],
       "range": ["circle","square","triangle-up","diamond","M0,-1V1M-0.87,-0.5L0.87,0.5M-0.87,0.5L0.87,-0.5","circle","M-0.8,-0.8L0.8,0.8M-0.8,0.8L0.8,-0.8","triangle-down"]}}
    }},
   {"data": {"name": "bP"}, "mark": {"type": "point", "filled": false, "opacity": 0},
    "encoding": {
     "x": {"field": "x", "type": "quantitative", "axis": {"orient": "top", "labels": false, "title": null, "tickSize": -5, "values": [1, 10, 100]}},
     "y": {"field": "y", "type": "quantitative", "axis": {"orient": "right", "labels": false, "title": null, "tickSize": -5, "values": [0, 50, 100]}},
     "color": {"field": "s", "type": "nominal",
      "legend": {"orient": "none", "legendX": 301, "legendY": 2.5, "rowPadding": 6.6, "title": null, "symbolSize": 289, "labelOffset": 8},
      "scale": {"domain": ["B. nasicornis","B. arietans","B. rhinoceros","B. gabonica","E. leucogaster","E. ocellatus","E. pyramidum","C. cerastes"],
       "range": ["#444444","#444444","#444444","#444444","#444444","#444444","#444444","#444444"]}},
     "shape": {"field": "s", "type": "nominal",
      "legend": {"orient": "none", "legendX": 301, "legendY": 2.5, "rowPadding": 6.6, "title": null, "symbolSize": 289, "labelOffset": 8},
      "scale": {"domain": ["B. nasicornis","B. arietans","B. rhinoceros","B. gabonica","E. leucogaster","E. ocellatus","E. pyramidum","C. cerastes"],
       "range": [
        "M-1,0H-0.24M0.24,0H1M0.24,0A0.24,0.24 0 1 1 -0.24,0A0.24,0.24 0 1 1 0.24,0",
        "M-1,0H-0.26M0.26,0H1M-0.26,-0.26H0.26V0.26H-0.26Z",
        "M-1,0H1M0,-0.3L0.28,0.2H-0.28ZM0,-0.1L0.12,0.12H-0.12Z",
        "M-1,0H-0.32M0.32,0H1M0,-0.32L0.32,0L0,0.32L-0.32,0Z",
        "M-1,0H1M0,-0.32V0.32M-0.28,-0.16L0.28,0.16M-0.28,0.16L0.28,-0.16",
        "M-1,0H-0.28M0.28,0H1M0.28,0A0.28,0.28 0 1 1 -0.28,0A0.28,0.28 0 1 1 0.28,0",
        "M-1,0H1M-0.26,-0.26L0.26,0.26M-0.26,0.26L0.26,-0.26",
        "M-1,0H1M0,0.3L0.28,-0.2H-0.28ZM0,0.1L0.12,-0.12H-0.12Z"]}}
    }}
  ]
 }
]
}
